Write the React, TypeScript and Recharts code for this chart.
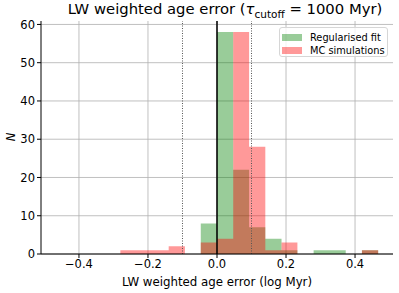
import React from 'react';
import {
  ComposedChart,
  Area,
  XAxis,
  YAxis,
  CartesianGrid,
  ReferenceLine,
  Legend,
} from 'recharts';

// bin edges (log Myr), shared by both histograms
const binEdges = [
  -0.28, -0.233, -0.187, -0.14, -0.093, -0.047, 0, 0.047, 0.093, 0.14, 0.187,
  0.233, 0.28, 0.327, 0.373, 0.42, 0.467,
];
// counts per bin (one fewer than edges)
const regularisedFit = [0, 0, 0, 0, 0, 8, 58, 22, 7, 4, 1, 0, 1, 1, 0, 1];
const mcSimulations = [1, 1, 1, 2, 0, 3, 4, 58, 28, 1, 3, 0, 0, 0, 0, 1];

const xTicks = [-0.4, -0.2, 0, 0.2, 0.4];
const yTicks = [0, 10, 20, 30, 40, 50, 60];
const markerLines = [-0.1, 0.1];

const GREEN = '#008000';
const RED = '#ff0000';
const FONT = '"DejaVu Sans", sans-serif';

// stepAfter needs a closing point at the last edge
const histData = binEdges.map((x, i) => ({
  x,
  fit: i < regularisedFit.length ? regularisedFit[i] : 0,
  mc: i < mcSimulations.length ? mcSimulations[i] : 0,
}));

const fmtX = (v: number) => (v < 0 ? '\u2212' : '') + Math.abs(v).toFixed(1);

const HistLegend = () => (
  <div
    style={{
      position: 'absolute',
      left: 238,
      top: 6,
      width: 109,
      height: 30,
      border: '1px solid #d6d6d6',
      borderRadius: 3,
      background: 'rgba(255,255,255,0.8)',
      fontFamily: FONT,
      fontSize: 9.8,
      color: '#000',
      boxSizing: 'border-box',
    }}
  >
    {[
      { label: 'Regularised fit', color: GREEN },
      { label: 'MC simulations', color: RED },
    ].map((it, i) => (
      <div
        key={it.label}
        style={{ position: 'absolute', left: 2, top: 3 + i * 13.4, height: 12, display: 'flex', alignItems: 'center' }}
      >
        <span style={{ display: 'inline-block', width: 20, height: 7, background: it.color, opacity: 0.4, marginRight: 8 }} />
        <span>{it.label}</span>
      </div>
    ))}
  </div>
);

export default function App() {
  return (
    <div style={{ position: 'absolute', left: 0, top: 0, width: 399, height: 293, background: '#fff' }}>
      <div
        style={{
          position: 'absolute',
          left: 0,
          top: 0,
          width: 450,
          textAlign: 'center',
          fontFamily: FONT,
          fontSize: 14.8,
          color: '#000',
          whiteSpace: 'nowrap',
        }}
      >
        LW weighted age error (
        <span style={{ fontStyle: 'italic' }}>τ</span>
        <sub style={{ fontSize: 10.5 }}>cutoff</sub> = 1000 Myr)
      </div>
      <ComposedChart
        width={399}
        height={293}
        data={histData}
        margin={{ top: 21, right: 6, bottom: 0, left: 0 }}
      >
        <CartesianGrid stroke="#b0b0b0" strokeWidth={0.8} horizontalValues={yTicks} verticalValues={xTicks} />
        <XAxis
          dataKey="x"
          type="number"
          domain={[-0.51, 0.51]}
          ticks={xTicks}
          tickFormatter={fmtX}
          allowDataOverflow
          height={39}
          tickSize={4}
          stroke="#000"
          tick={{ fill: '#000', fontSize: 11.5, fontFamily: FONT }}
          label={{ value: 'LW weighted age error (log Myr)', position: 'insideBottom', offset: 7, fill: '#000', fontSize: 11.8, fontFamily: FONT }}
        />
        <XAxis xAxisId="top" orientation="top" dataKey="x" type="number" domain={[-0.51, 0.51]} tick={false} tickLine={false} height={0} stroke="#000" />
        <YAxis
          type="number"
          domain={[0, 60.9]}
          ticks={yTicks}
          allowDataOverflow
          width={41}
          tickSize={4}
          stroke="#000"
          tick={{ fill: '#000', fontSize: 11.5, fontFamily: FONT }}
        />
        <YAxis yAxisId="right" orientation="right" domain={[0, 60.9]} tick={false} tickLine={false} width={0} stroke="#000" />
        <Area
          type="stepAfter"
          dataKey="fit"
          name="Regularised fit"
          stroke="none"
          fill={GREEN}
          fillOpacity={0.4}
          isAnimationActive={false}
        />
        <Area
          type="stepAfter"
          dataKey="mc"
          name="MC simulations"
          stroke="none"
          fill={RED}
          fillOpacity={0.4}
          isAnimationActive={false}
        />
        <ReferenceLine x={0} stroke="#000" strokeWidth={1.5} />
        {markerLines.map((v) => (
          <ReferenceLine key={v} x={v} stroke="#555" strokeWidth={1} strokeDasharray="1 1.5" />
        ))}
        <Legend content={() => null} />
      </ComposedChart>
      <div
        style={{
          position: 'absolute',
          left: 4,
          top: 130,
          width: 14,
          height: 14,
          lineHeight: '14px',
          textAlign: 'center',
          transform: 'rotate(-90deg)',
          fontFamily: FONT,
          fontSize: 11.5,
          fontStyle: 'italic',
          color: '#000',
        }}
      >
        N
      </div>
      <div style={{ position: 'absolute', left: 41, top: 21 }}>
        <HistLegend />
      </div>
    </div>
  );
}
